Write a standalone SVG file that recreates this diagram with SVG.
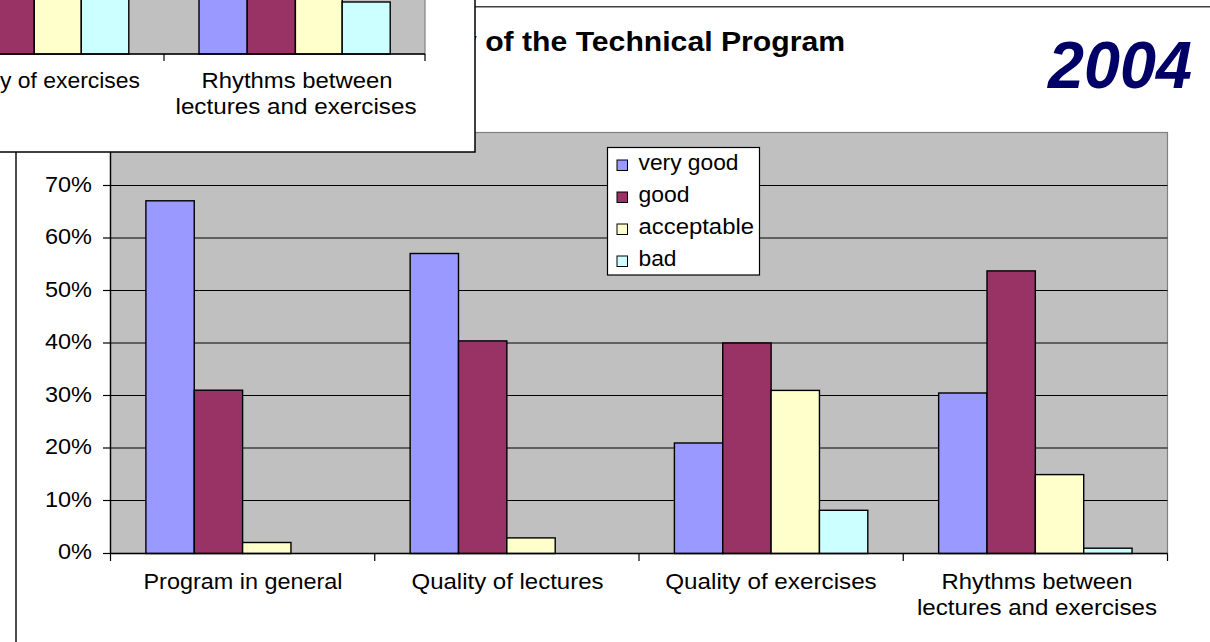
<svg xmlns="http://www.w3.org/2000/svg" width="1210" height="642" viewBox="0 0 1210 642">
<style>
text{font-family:"Liberation Sans",Arial,sans-serif;fill:#000}
.lbl{font-size:22px}
.ax{font-size:22px;text-anchor:end}
.cat{font-size:22px;text-anchor:middle}
.vg{fill:#9999FF;stroke:#000;stroke-width:1.4}
.gd{fill:#993366;stroke:#000;stroke-width:1.4}
.ac{fill:#FFFFCC;stroke:#000;stroke-width:1.4}
.bd{fill:#CCFFFF;stroke:#000;stroke-width:1.4}
.grid{stroke:#000;stroke-width:1.2}
.tick{stroke:#000;stroke-width:1.2}
</style>
<rect x="0" y="0" width="1210" height="642" fill="#fff"/>
<g id="frame">
<line x1="475" y1="6.7" x2="1210" y2="6.7" stroke="#404040" stroke-width="1.6"/>
<line x1="16" y1="150" x2="16" y2="642" stroke="#000" stroke-width="1.4"/>
</g>
<g id="title">
<text x="460" y="50.5" font-size="27" font-weight="bold" textLength="385" lengthAdjust="spacingAndGlyphs">y of the Technical Program</text>
<text x="1048" y="88" font-size="66" font-weight="bold" font-style="italic" fill="#000066" style="fill:#000066" textLength="144" lengthAdjust="spacingAndGlyphs">2004</text>
</g>
<g id="plot">
<rect x="110.5" y="132.5" width="1057" height="421" fill="#C0C0C0" stroke="#808080" stroke-width="1.2"/>
<g id="gridlines">
<line class="grid" x1="110.5" y1="185.5" x2="1167.5" y2="185.5"/>
<line class="grid" x1="110.5" y1="238" x2="1167.5" y2="238"/>
<line class="grid" x1="110.5" y1="290.5" x2="1167.5" y2="290.5"/>
<line class="grid" x1="110.5" y1="343" x2="1167.5" y2="343"/>
<line class="grid" x1="110.5" y1="395.5" x2="1167.5" y2="395.5"/>
<line class="grid" x1="110.5" y1="448" x2="1167.5" y2="448"/>
<line class="grid" x1="110.5" y1="500.5" x2="1167.5" y2="500.5"/>
</g>
<g id="bars">
<rect class="vg" x="145.9" y="200.8" width="48.35" height="352.7"/>
<rect class="gd" x="194.25" y="390.2" width="48.35" height="163.3"/>
<rect class="ac" x="242.6" y="542.5" width="48.35" height="11"/>

<rect class="vg" x="410.15" y="253.5" width="48.35" height="300"/>
<rect class="gd" x="458.5" y="340.9" width="48.35" height="212.6"/>
<rect class="ac" x="506.85" y="537.9" width="48.35" height="15.6"/>

<rect class="vg" x="674.4" y="443" width="48.35" height="110.5"/>
<rect class="gd" x="722.75" y="343" width="48.35" height="210.5"/>
<rect class="ac" x="771.1" y="390.4" width="48.35" height="163.1"/>
<rect class="bd" x="819.45" y="510.3" width="48.35" height="43.2"/>

<rect class="vg" x="938.65" y="393" width="48.35" height="160.5"/>
<rect class="gd" x="987" y="270.9" width="48.35" height="282.6"/>
<rect class="ac" x="1035.35" y="474.6" width="48.35" height="78.9"/>
<rect class="bd" x="1083.7" y="548.2" width="48.35" height="5.3"/>
</g>
<g id="axes">
<line x1="110.5" y1="132.5" x2="110.5" y2="553.5" stroke="#000" stroke-width="1.4"/>
<line x1="110.5" y1="553.5" x2="1167.5" y2="553.5" stroke="#000" stroke-width="1.4"/>
<line class="tick" x1="103" y1="132.5" x2="110.5" y2="132.5"/>
<line class="tick" x1="103" y1="185.5" x2="110.5" y2="185.5"/>
<line class="tick" x1="103" y1="238" x2="110.5" y2="238"/>
<line class="tick" x1="103" y1="290.5" x2="110.5" y2="290.5"/>
<line class="tick" x1="103" y1="343" x2="110.5" y2="343"/>
<line class="tick" x1="103" y1="395.5" x2="110.5" y2="395.5"/>
<line class="tick" x1="103" y1="448" x2="110.5" y2="448"/>
<line class="tick" x1="103" y1="500.5" x2="110.5" y2="500.5"/>
<line class="tick" x1="103" y1="553.5" x2="110.5" y2="553.5"/>
<line class="tick" x1="110.5" y1="553.5" x2="110.5" y2="561"/>
<line class="tick" x1="374.75" y1="553.5" x2="374.75" y2="561"/>
<line class="tick" x1="639" y1="553.5" x2="639" y2="561"/>
<line class="tick" x1="903.25" y1="553.5" x2="903.25" y2="561"/>
<line class="tick" x1="1167.5" y1="553.5" x2="1167.5" y2="561"/>
</g>
<g id="y-labels">
<text class="ax" x="92" y="191.5" textLength="47" lengthAdjust="spacingAndGlyphs">70%</text>
<text class="ax" x="92" y="244" textLength="47" lengthAdjust="spacingAndGlyphs">60%</text>
<text class="ax" x="92" y="296.5" textLength="47" lengthAdjust="spacingAndGlyphs">50%</text>
<text class="ax" x="92" y="349" textLength="47" lengthAdjust="spacingAndGlyphs">40%</text>
<text class="ax" x="92" y="401.5" textLength="47" lengthAdjust="spacingAndGlyphs">30%</text>
<text class="ax" x="92" y="454" textLength="47" lengthAdjust="spacingAndGlyphs">20%</text>
<text class="ax" x="92" y="506.5" textLength="47" lengthAdjust="spacingAndGlyphs">10%</text>
<text class="ax" x="92" y="559" textLength="34" lengthAdjust="spacingAndGlyphs">0%</text>
</g>
<g id="x-labels">
<text class="cat" x="243" y="588.5" textLength="199" lengthAdjust="spacingAndGlyphs">Program in general</text>
<text class="cat" x="507.5" y="588.5" textLength="192" lengthAdjust="spacingAndGlyphs">Quality of lectures</text>
<text class="cat" x="771" y="588.5" textLength="211.5" lengthAdjust="spacingAndGlyphs">Quality of exercises</text>
<text class="cat" x="1037" y="588.5" textLength="191" lengthAdjust="spacingAndGlyphs">Rhythms between</text>
<text class="cat" x="1037" y="615" textLength="240" lengthAdjust="spacingAndGlyphs">lectures and exercises</text>
</g>
<g id="legend">
<rect x="607.5" y="147.5" width="152" height="127.5" fill="#fff" stroke="#000" stroke-width="1.2"/>
<rect class="vg" x="617" y="160" width="10.5" height="10.5" style="stroke-width:1"/>
<rect class="gd" x="617" y="192" width="10.5" height="10.5" style="stroke-width:1"/>
<rect class="ac" x="617" y="224" width="10.5" height="10.5" style="stroke-width:1"/>
<rect class="bd" x="617" y="256" width="10.5" height="10.5" style="stroke-width:1"/>
<text class="lbl" x="638.5" y="169.5" textLength="100" lengthAdjust="spacingAndGlyphs">very good</text>
<text class="lbl" x="638.5" y="201.5" textLength="51" lengthAdjust="spacingAndGlyphs">good</text>
<text class="lbl" x="638.5" y="233.5" textLength="115.5" lengthAdjust="spacingAndGlyphs">acceptable</text>
<text class="lbl" x="638.5" y="265.5" textLength="38" lengthAdjust="spacingAndGlyphs">bad</text>
</g>
</g>
<g id="overlay-chart">
<rect x="-2" y="-2" width="477" height="154" fill="#fff" stroke="#000" stroke-width="1.5"/>
<rect x="-2" y="-2" width="427" height="56" fill="#C0C0C0" stroke="#808080" stroke-width="1.2"/>
<rect class="gd" x="-14" y="-3" width="48.3" height="57"/>
<rect class="ac" x="34.3" y="-3" width="47" height="57"/>
<rect class="bd" x="81.3" y="-3" width="47.5" height="57"/>
<rect class="vg" x="199" y="-3" width="48.2" height="57"/>
<rect class="gd" x="247.2" y="-3" width="48.2" height="57"/>
<rect class="ac" x="295.4" y="-3" width="46.8" height="57"/>
<rect class="bd" x="342.2" y="2" width="48" height="52"/>
<line x1="0" y1="54" x2="425" y2="54" stroke="#000" stroke-width="1.4"/>
<line class="tick" x1="164" y1="54" x2="164" y2="61"/>
<line class="tick" x1="425" y1="54" x2="425" y2="61"/>
<text class="lbl" x="0" y="88.3" textLength="140" lengthAdjust="spacingAndGlyphs">y of exercises</text>
<text class="cat" x="297" y="88.3" textLength="191" lengthAdjust="spacingAndGlyphs">Rhythms between</text>
<text class="cat" x="296" y="114" textLength="241" lengthAdjust="spacingAndGlyphs">lectures and exercises</text>
</g>
</svg>
